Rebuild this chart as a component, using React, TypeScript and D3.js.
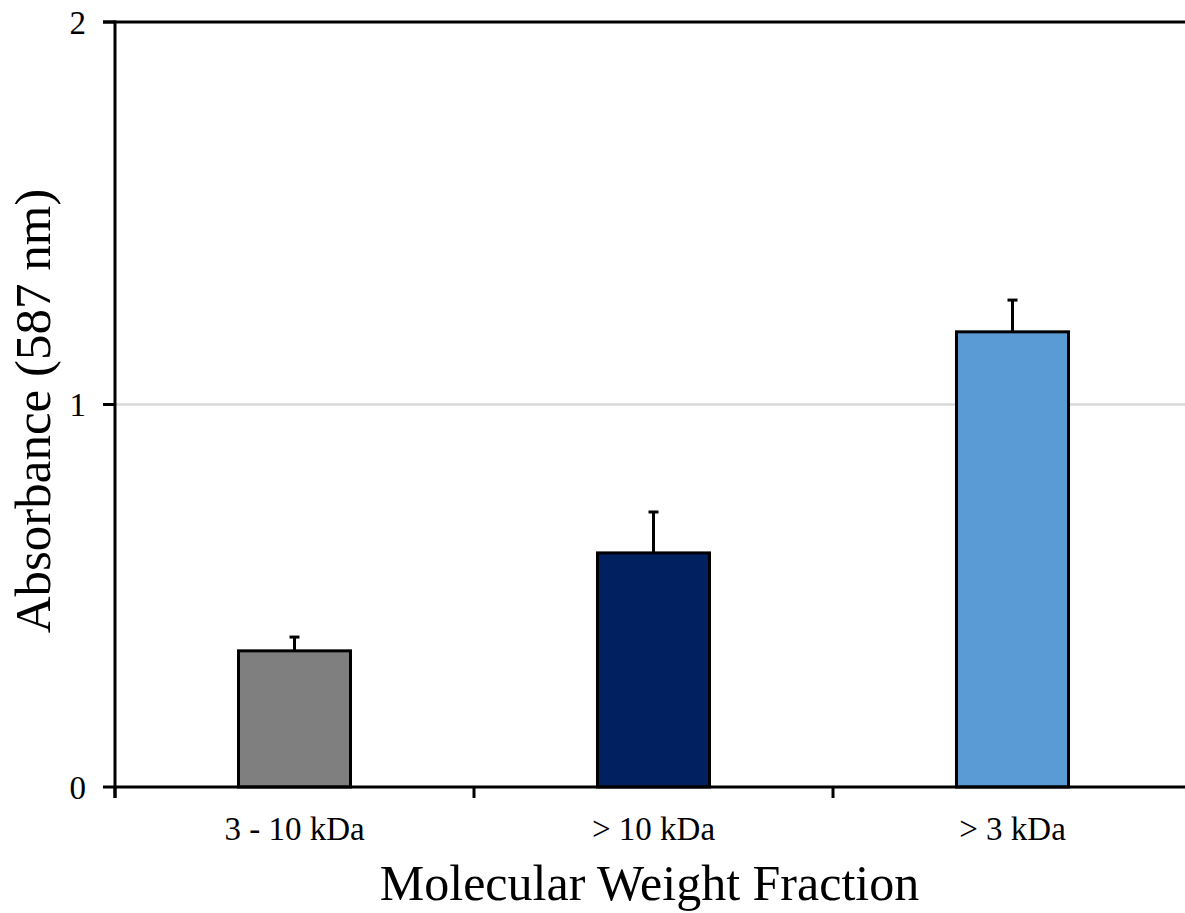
import React from "react";
import * as d3 from "d3";

// Absorbance by molecular weight fraction, with error bars
const categories = ["3 - 10 kDa", "> 10 kDa", "> 3 kDa"];
const absorbance = [0.356, 0.612, 1.19];
const errors = [0.036, 0.107, 0.083];
const barColors = ["#7f7f7f", "#002060", "#5b9bd5"];
const yTicks = [0, 1, 2];

const W = 1185;
const H = 913;
const left = 115;
const step = 359;
const top = 22;
const bottom = 787;

export default function App() {
  const x = d3
    .scaleBand<string>()
    .domain(categories)
    .range([left, left + step * categories.length])
    .padding(0);
  const y = d3.scaleLinear().domain([0, 2]).range([bottom, top]);
  const barW = x.step() * 0.312;
  const font = "'Liberation Serif', 'Times New Roman', serif";
  const boundaries = [...categories.map((c) => x(c)!), x.range()[1]];

  return (
    <div style={{ position: "absolute", left: 0, top: 0 }}>
      <svg width={W} height={H} style={{ display: "block", background: "#fff" }}>
        {/* gridline at 1 */}
        <line x1={left} x2={W} y1={y(1)} y2={y(1)} stroke="#d9d9d9" strokeWidth={2.5} />
        {/* top frame line at 2 */}
        <line x1={left - 12} x2={W} y1={y(2)} y2={y(2)} stroke="#000" strokeWidth={3} />

        {/* bars */}
        {categories.map((c, i) => {
          const cx = x(c)! + x.bandwidth() / 2;
          return (
            <g key={c}>
              <line
                x1={cx}
                x2={cx}
                y1={y(absorbance[i])}
                y2={y(absorbance[i] + errors[i])}
                stroke="#000"
                strokeWidth={3}
              />
              <line
                x1={cx - 5}
                x2={cx + 5}
                y1={y(absorbance[i] + errors[i])}
                y2={y(absorbance[i] + errors[i])}
                stroke="#000"
                strokeWidth={3}
              />
              <rect
                x={cx - barW / 2}
                y={y(absorbance[i])}
                width={barW}
                height={y(0) - y(absorbance[i])}
                fill={barColors[i]}
                stroke="#000"
                strokeWidth={3}
              />
            </g>
          );
        })}

        {/* y axis */}
        <line x1={left} x2={left} y1={y(2) - 1.5} y2={bottom + 11} stroke="#000" strokeWidth={3} />
        {yTicks.map((t) => (
          <g key={t}>
            <line x1={left - 12} x2={left} y1={y(t)} y2={y(t)} stroke="#000" strokeWidth={3} />
            <text
              x={86}
              y={y(t)}
              dy="0.35em"
              textAnchor="end"
              fontFamily={font}
              fontSize={33}
              fill="#000"
            >
              {t}
            </text>
          </g>
        ))}

        {/* x axis */}
        <line x1={left} x2={W} y1={bottom} y2={bottom} stroke="#000" strokeWidth={3} />
        {boundaries.map((bx, i) => (
          <line key={i} x1={bx} x2={bx} y1={bottom} y2={bottom + 11} stroke="#000" strokeWidth={3} />
        ))}
        {categories.map((c) => (
          <text
            key={c}
            x={x(c)! + x.bandwidth() / 2}
            y={840}
            textAnchor="middle"
            fontFamily={font}
            fontSize={33}
            fill="#000"
          >
            {c}
          </text>
        ))}

        {/* axis titles */}
        <text
          x={(left + left + step * 3) / 2 - 4}
          y={900}
          textAnchor="middle"
          fontFamily={font}
          fontSize={50}
          fill="#000"
        >
          Molecular Weight Fraction
        </text>
        <text
          transform={`translate(50, ${411}) rotate(-90)`}
          textAnchor="middle"
          fontFamily={font}
          fontSize={51}
          fill="#000"
        >
          Absorbance (587 nm)
        </text>
      </svg>
    </div>
  );
}
